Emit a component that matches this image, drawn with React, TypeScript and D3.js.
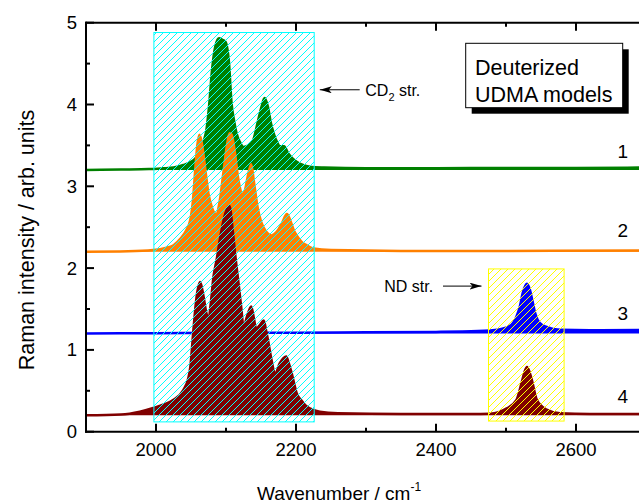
import React from "react";
import * as d3 from "d3";

// spectra: [wavenumber, intensity]
const model1: [number, number][] = [
  [1900, 3.2], [1950, 3.205], [1990, 3.21], [2010, 3.22], [2025, 3.23], [2039, 3.26], [2050, 3.3],
  [2056, 3.34], [2062, 3.42], [2068, 3.55], [2072, 3.69], [2076, 4.0], [2080, 4.42], [2085, 4.72],
  [2090, 4.81], [2095, 4.79], [2099, 4.77], [2102, 4.68], [2104, 4.54], [2108, 4.01], [2112, 3.78],
  [2115, 3.65], [2120, 3.54], [2125, 3.48], [2132, 3.5], [2139, 3.57], [2146, 3.81], [2151, 3.98],
  [2155, 4.08], [2160, 3.97], [2164, 3.78], [2168, 3.65], [2173, 3.54], [2177, 3.49], [2183, 3.49],
  [2189, 3.4], [2195, 3.34], [2201, 3.3], [2210, 3.26], [2220, 3.24], [2240, 3.23], [2300, 3.22],
  [2400, 3.22], [2500, 3.225], [2600, 3.225], [2700, 3.23],
];
const model2: [number, number][] = [
  [1900, 2.2], [1960, 2.205], [1996, 2.22], [2015, 2.25], [2025, 2.28], [2035, 2.36], [2043, 2.46],
  [2049, 2.59], [2053, 2.85], [2056, 3.2], [2059, 3.5], [2062, 3.63], [2065, 3.55], [2068, 3.38],
  [2072, 3.1], [2075, 2.91], [2080, 2.74], [2086, 2.66], [2091, 2.82], [2096, 3.15], [2101, 3.48],
  [2105, 3.65], [2108, 3.63], [2113, 3.4], [2117, 3.12], [2120, 2.98], [2123, 2.9], [2127, 2.95],
  [2131, 3.12], [2136, 3.27], [2140, 3.05], [2145, 2.75], [2150, 2.57], [2157, 2.45], [2165, 2.4],
  [2172, 2.44], [2180, 2.55], [2187, 2.66], [2192, 2.58], [2197, 2.46], [2201, 2.4], [2208, 2.32],
  [2215, 2.28], [2225, 2.24], [2250, 2.22], [2350, 2.21], [2500, 2.21], [2700, 2.215],
];
const model3: [number, number][] = [
  [1900, 1.2], [2000, 1.205], [2100, 1.21], [2200, 1.21], [2300, 1.215], [2400, 1.22], [2460, 1.23],
  [2490, 1.25], [2505, 1.29], [2515, 1.41], [2520, 1.54], [2524, 1.7], [2530, 1.81], [2534, 1.74],
  [2538, 1.59], [2542, 1.44], [2548, 1.33], [2558, 1.28], [2577, 1.245], [2620, 1.24], [2700, 1.245],
];
const model4: [number, number][] = [
  [1900, 0.2], [1950, 0.21], [1977, 0.245], [1996, 0.29], [2010, 0.33], [2025, 0.39], [2039, 0.51],
  [2046, 0.65], [2049, 0.79], [2053, 1.2], [2058, 1.65], [2063, 1.83], [2068, 1.65], [2072, 1.45],
  [2075, 1.37], [2078, 1.55], [2082, 1.89], [2087, 2.12], [2091, 2.34], [2099, 2.67], [2105, 2.76],
  [2110, 2.43], [2114, 2.1], [2118, 1.81], [2122, 1.5], [2125, 1.28], [2130, 1.41], [2136, 1.53],
  [2140, 1.38], [2143, 1.26], [2148, 1.3], [2154, 1.36], [2157, 1.25], [2160, 1.12], [2165, 0.88],
  [2170, 0.71], [2177, 0.84], [2182, 0.9], [2186, 0.92], [2190, 0.83], [2194, 0.71], [2201, 0.47],
  [2208, 0.38], [2215, 0.31], [2234, 0.245], [2260, 0.225], [2350, 0.215], [2450, 0.215], [2477, 0.22],
  [2501, 0.285], [2515, 0.39], [2522, 0.59], [2526, 0.72], [2530, 0.79], [2534, 0.72], [2537, 0.63],
  [2544, 0.39], [2558, 0.27], [2577, 0.225], [2620, 0.215], [2700, 0.215],
];

const seriesNames = ["1", "2", "3", "4"];
const seriesColors = ["#008000", "#ff8000", "#0000ff", "#800000"];
const seriesData = [model1, model2, model3, model4];
const seriesLabelY = [3.35, 2.38, 1.37, 0.35];

const xTicks = [2000, 2200, 2400, 2600];
const xTickLabels = ["2000", "2200", "2400", "2600"];
const yTicks = [0, 1, 2, 3, 4, 5];
const yTickLabels = ["0", "1", "2", "3", "4", "5"];

// highlighted regions [x0, x1, y0, y1]
const cdBox = [1997, 2226, 0.12, 4.88];
const ndBox = [2475, 2583, 0.13, 1.99];

const W = 639;
const H = 504;
const font = "'Liberation Sans', Arial, sans-serif";

export default function App() {
  const x = d3.scaleLinear().domain([1900, 2700]).range([86, 646]);
  const y = d3.scaleLinear().domain([0, 5]).range([431.7, 22.7]);

  const xMinor = d3.range(1900, 2701, 100).filter(v => !xTicks.includes(v));
  const yMinor = d3.range(0.5, 5, 1);

  const line = d3.line<[number, number]>().x(d => x(d[0])).y(d => y(d[1])).curve(d3.curveMonotoneX);

  const box = (b: number[]) => ({
    x: x(b[0]),
    y: y(b[3]),
    width: x(b[1]) - x(b[0]),
    height: y(b[2]) - y(b[3]),
  });

  return (
    <svg width={W} height={H} style={{ position: "absolute", left: 0, top: 0, background: "#fff" }} fontFamily={font}>
      <defs>
        <pattern id="hatchC" patternUnits="userSpaceOnUse" width={7} height={7}>
          <path d="M0,7 L7,0 M-1,1 L1,-1 M6,8 L8,6" stroke="#00ffff" strokeWidth={1} shapeRendering="crispEdges" />
        </pattern>
        <pattern id="hatchY" patternUnits="userSpaceOnUse" width={7} height={7}>
          <path d="M0,7 L7,0 M-1,1 L1,-1 M6,8 L8,6" stroke="#ffff00" strokeWidth={1} shapeRendering="crispEdges" />
        </pattern>
        <marker id="arrow" viewBox="0 0 12 7" refX={12} refY={3.5} markerWidth={12} markerHeight={7} orient="auto" markerUnits="userSpaceOnUse">
          <path d="M0,0 L12,3.5 L0,7 L3,3.5 Z" fill="#000" />
        </marker>
        <clipPath id="plot">
          <rect x={86} y={22.7} width={560} height={409} />
        </clipPath>
      </defs>

      <g clipPath="url(#plot)">
        {seriesData.map((s, i) => {
          const base = s[0][1];
          const area = d3.area<[number, number]>()
            .x(d => x(d[0]))
            .y0(y(base))
            .y1(d => y(d[1]))
            .curve(d3.curveMonotoneX);
          return (
            <g key={seriesNames[i]}>
              <path d={area(s) || ""} fill={seriesColors[i]} />
              <path d={line(s) || ""} fill="none" stroke={seriesColors[i]} strokeWidth={2.5} />
            </g>
          );
        })}
        <rect {...box(cdBox)} fill="url(#hatchC)" stroke="#00ffff" strokeWidth={1} />
        <rect {...box(ndBox)} fill="url(#hatchY)" stroke="#ffff00" strokeWidth={1} />
      </g>

      {/* axes */}
      <g stroke="#000" strokeWidth={2} fill="none">
        <line x1={86} x2={86} y1={21.7} y2={432.7} />
        <line x1={85} x2={646} y1={431.7} y2={431.7} />
        <line x1={85} x2={646} y1={22.7} y2={22.7} />
        {xTicks.map(v => (
          <g key={"xt" + v}>
            <line x1={x(v)} x2={x(v)} y1={431.7} y2={423.7} />
            <line x1={x(v)} x2={x(v)} y1={22.7} y2={30.7} />
          </g>
        ))}
        {xMinor.map(v => (
          <g key={"xm" + v}>
            <line x1={x(v)} x2={x(v)} y1={431.7} y2={427.7} />
            <line x1={x(v)} x2={x(v)} y1={22.7} y2={26.7} />
          </g>
        ))}
        {yTicks.map(v => (
          <line key={"yt" + v} x1={86} x2={94} y1={y(v)} y2={y(v)} />
        ))}
        {yMinor.map(v => (
          <line key={"ym" + v} x1={86} x2={90} y1={y(v)} y2={y(v)} />
        ))}
      </g>

      <g fontSize={18.5} fill="#000">
        {xTicks.map((v, i) => (
          <text key={"xl" + v} x={x(v)} y={456} textAnchor="middle">{xTickLabels[i]}</text>
        ))}
        {yTicks.map((v, i) => (
          <text key={"yl" + v} x={77} y={y(v) + 6.5} textAnchor="end">{yTickLabels[i]}</text>
        ))}
      </g>

      <text x={257} y={500} fontSize={19} fill="#000">
        Wavenumber / cm<tspan fontSize={12} dy={-9}>-1</tspan>
      </text>
      <text transform={`translate(34, 240) rotate(-90)`} textAnchor="middle" fontSize={21.5} fill="#000">
        Raman intensity / arb. units
      </text>

      {/* series numbers */}
      <g fontSize={19} fill="#000">
        {seriesNames.map((n, i) => (
          <text key={"n" + n} x={x(2667)} y={y(seriesLabelY[i])} textAnchor="middle">{n}</text>
        ))}
      </g>

      {/* annotations */}
      <line x1={x(2291)} x2={x(2234)} y1={y(4.18)} y2={y(4.18)} stroke="#000" strokeWidth={1} markerEnd="url(#arrow)" />
      <text x={x(2299)} y={y(4.1)} fontSize={16} fill="#000">
        CD<tspan fontSize={11} dy={5}>2</tspan><tspan dy={-5}> str.</tspan>
      </text>
      <text x={x(2396)} y={y(1.71)} fontSize={16} fill="#000" textAnchor="end">ND str.</text>
      <line x1={x(2410)} x2={x(2465)} y1={y(1.78)} y2={y(1.78)} stroke="#000" strokeWidth={1} markerEnd="url(#arrow)" />

      {/* legend box */}
      <rect x={471.7} y={49.3} width={157} height={64.4} fill="#000" />
      <rect x={465.7} y={43.3} width={157} height={64.4} fill="#fff" stroke="#000" strokeWidth={1} />
      <text x={475} y={75} fontSize={21.5} fill="#000">Deuterized</text>
      <text x={475} y={102} fontSize={21.5} fill="#000">UDMA models</text>
    </svg>
  );
}
